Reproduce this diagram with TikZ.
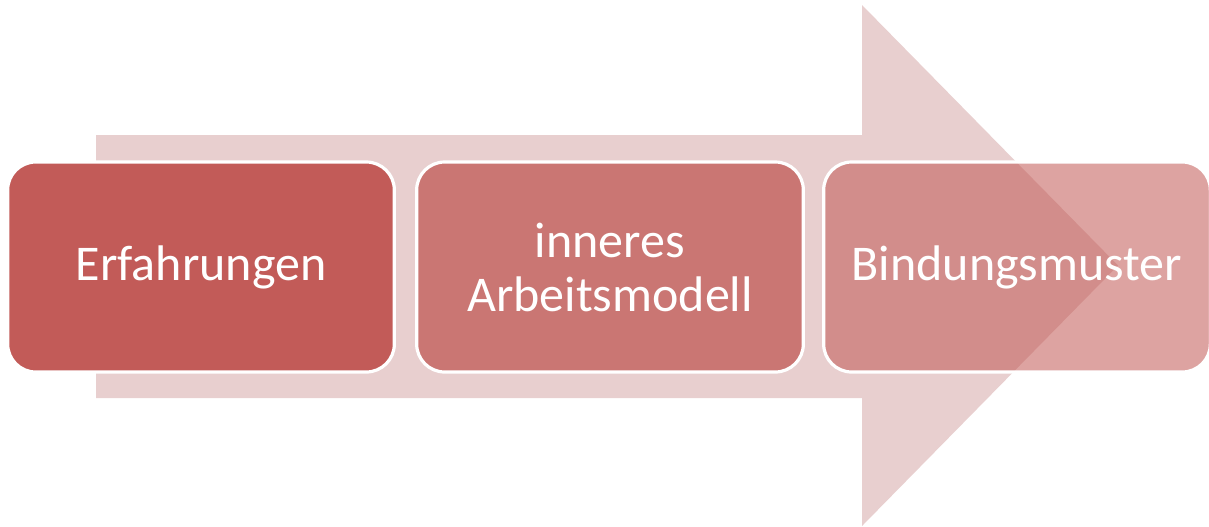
\documentclass[tikz,border=0pt]{standalone}
\usepackage{fontspec}
\setmainfont{Carlito}
\definecolor{arrowc}{HTML}{E8CFCF}
\definecolor{boxa}{HTML}{C25B58}
\definecolor{boxb}{HTML}{CA7673}
\definecolor{boxc}{RGB}{193,88,84}
\begin{document}
\begin{tikzpicture}[x=0.75pt,y=-0.75pt,
  stagebox/.style={draw=white,line width=2.4pt,rounded corners=21pt,
    minimum width=290pt,minimum height=157.5pt,inner sep=0pt,
    text=white,align=center,font=\fontsize{37.5}{40.5}\selectfont}]
\useasboundingbox (0,0) rectangle (1209,526);
\fill[arrowc] (96,135) -- (862,135) -- (862,5) -- (1118,265.5) -- (862,526) -- (862,398) -- (96,398) -- cycle;
\node[stagebox,fill=boxa] (b1) at (201,267) {Erfahrungen};
\node[stagebox,fill=boxb] (b2) at (610,267) {inneres\\Arbeitsmodell};
\node[stagebox,fill=boxc,fill opacity=0.55,text opacity=1] (b3) at (1017,267) {Bindungsmuster};
\end{tikzpicture}
\end{document}
